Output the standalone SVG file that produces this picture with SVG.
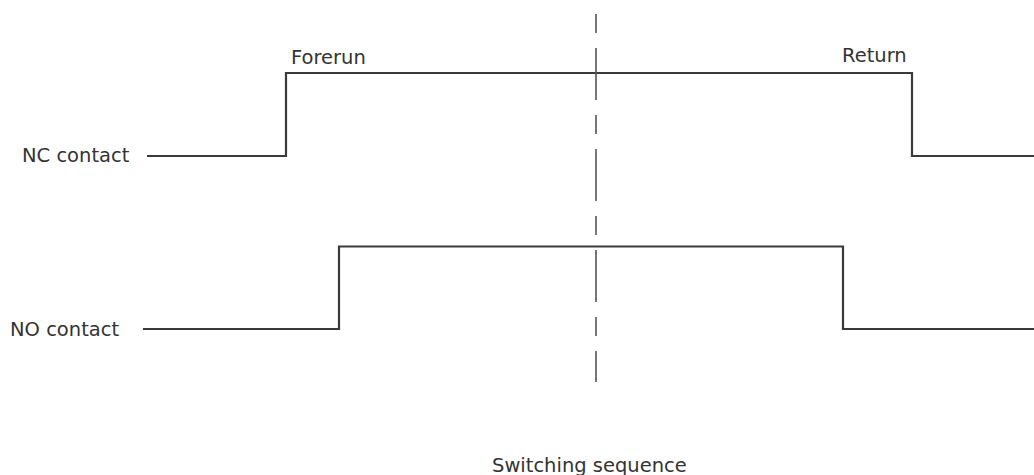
<svg xmlns="http://www.w3.org/2000/svg" width="1034" height="475" viewBox="0 0 1034 475">
<style>
  .lbl { font-family: "DejaVu Sans", Verdana, sans-serif; font-size: 19.5px; fill: #333; }
  .sig { fill: none; stroke: #3a3a3a; stroke-width: 2.2; stroke-linejoin: miter; }
  .axis { fill: none; stroke: #555; stroke-width: 1.6; stroke-dasharray: 19 15 52 15; }
</style>
<rect width="1034" height="475" fill="#ffffff"/>
<g id="connectors">
  <path id="nc-signal" class="sig" d="M147 156 H286 V73 H912 V156 H1034"/>
  <path id="no-signal" class="sig" d="M143 329 H339 V246.5 H843 V329 H1034"/>
  <line id="switch-axis" class="axis" x1="596" y1="14" x2="596" y2="382"/>
</g>
<g id="nc-label"><text class="lbl" x="22" y="162">NC contact</text></g>
<g id="no-label"><text class="lbl" x="10" y="336">NO contact</text></g>
<g id="forerun-label"><text class="lbl" x="291" y="64">Forerun</text></g>
<g id="return-label"><text class="lbl" x="842" y="62">Return</text></g>
<g id="switching-label"><text class="lbl" x="492" y="472">Switching sequence</text></g>
</svg>
